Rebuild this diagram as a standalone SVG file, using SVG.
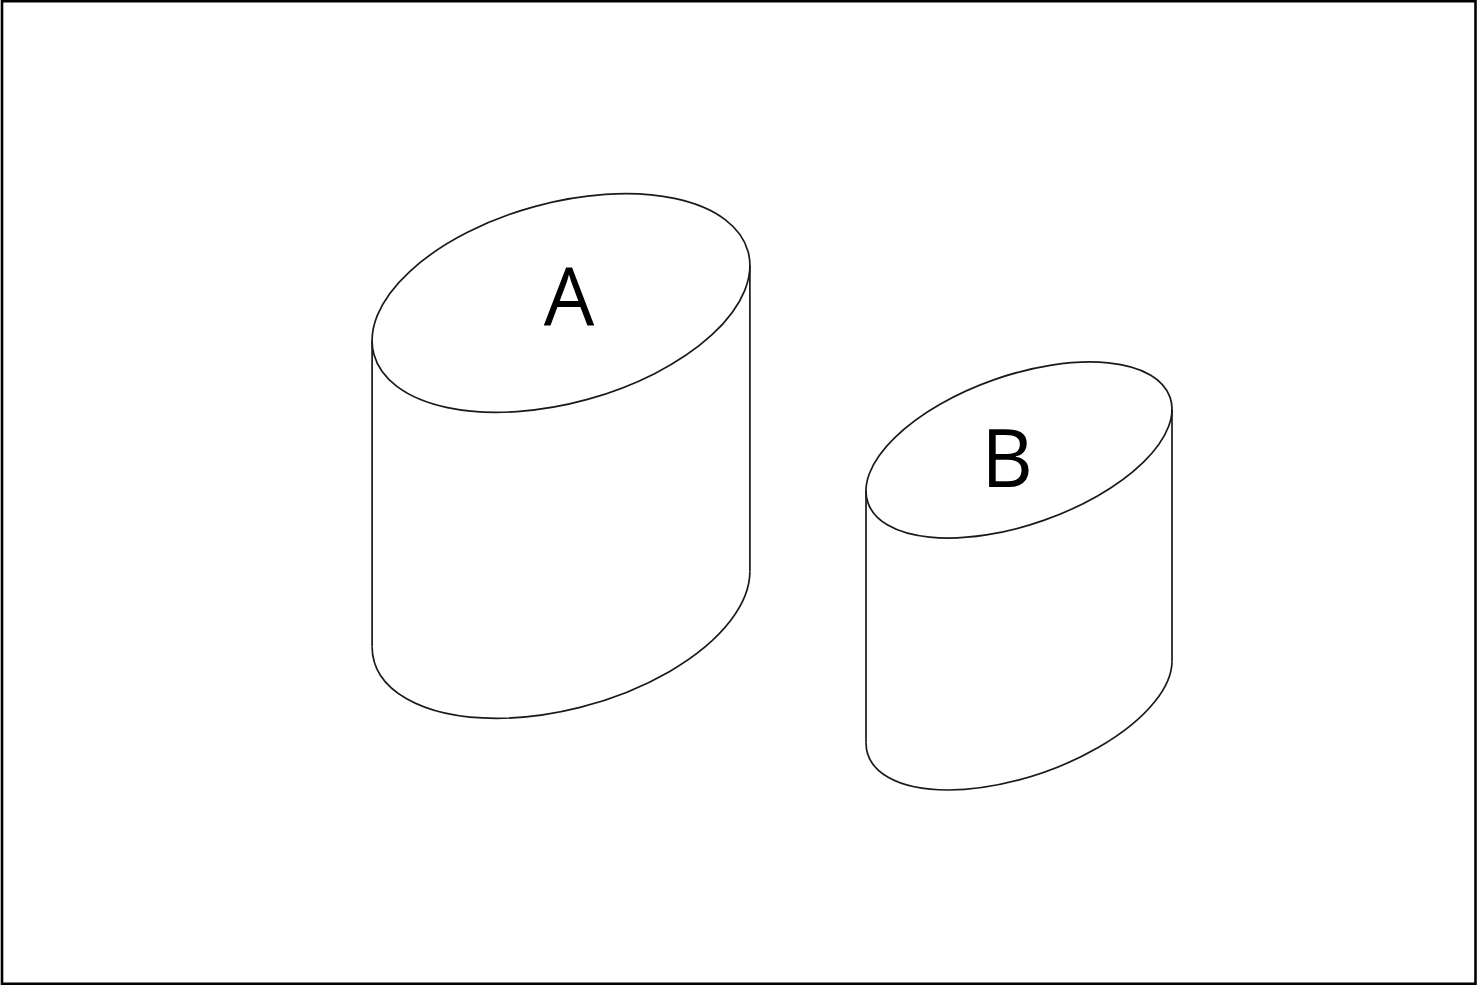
<svg xmlns="http://www.w3.org/2000/svg" width="1478" height="985" viewBox="0 0 1478 985">
  <style>
    .ln { fill: none; stroke: #1a1a1a; stroke-width: 1.7; }
    .lbl { font-family: "Open Sans", "Noto Sans", "Liberation Sans", sans-serif; font-size: 80px; fill: #000; text-anchor: middle; }
  </style>
  <rect x="0" y="0" width="1478" height="985" fill="#fff"/>
  <rect x="2" y="1.2" width="1473.5" height="982.6" fill="none" stroke="#000" stroke-width="2.6"/>
  <g id="cylinder-a">
    <path class="ln" d="M372.1 340.4 V646.4 M749.9 265.6 V571.6"/>
    <path class="ln" d="M372.1 646.4 A194 100 -15.4 0 0 496.3 718.3 A194 100 -15.4 0 0 749.9 571.6"/>
    <ellipse class="ln" cx="561" cy="303" rx="194" ry="100" transform="rotate(-15.4 561 303)"/>
    <text class="lbl" x="569" y="325">A</text>
  </g>
  <g id="cylinder-b">
    <path class="ln" d="M866 490.85 V742.85 M1172 409.15 V661.15"/>
    <path class="ln" d="M866 742.85 A160 74.6 -19.3 0 0 948.1 790 A160 74.6 -19.3 0 0 1172 661.15"/>
    <ellipse class="ln" cx="1019" cy="450" rx="160" ry="74.6" transform="rotate(-19.3 1019 450)"/>
    <text class="lbl" x="1007" y="487">B</text>
  </g>
  <g id="connectors"/>
</svg>
